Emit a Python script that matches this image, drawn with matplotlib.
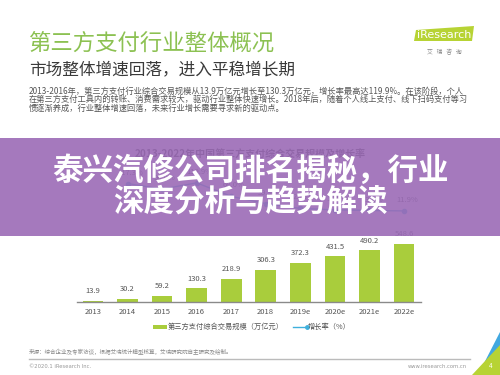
import matplotlib
matplotlib.use("Agg")
import matplotlib.pyplot as plt
from matplotlib.patches import Rectangle, Polygon

plt.rcParams['font.family'] = ['Noto Sans CJK SC', 'DejaVu Sans']

# data
years = ['2013', '2014', '2015', '2016', '2017', '2018', '2019e', '2020e', '2021e', '2022e']
scale = [13.9, 30.2, 59.2, 130.3, 218.9, 306.3, 372.3, 431.5, 490.2, 548.6]
growth_years = years[1:]
growth = [117.3, 96.0, 119.9, 68.0, 39.9, 21.5, 15.9, 13.6, 11.9]

W, H = 500, 375
BAR_GREEN = '#a9cd3c'
LINE_BLUE = '#3fb0dc'


def fx(x):
    return x / W


def fy(y):
    return 1 - y / H


fig = plt.figure(figsize=(5, 3.75), dpi=100)
fig.patch.set_facecolor('white')

# header
fig.text(fx(29), fy(43), '第三方支付行业整体概况', fontsize=16.1, color='#8cc152',
         va='center', ha='left')
fig.text(fx(29), fy(70), '市场整体增速回落，进入平稳增长期', fontsize=12.0, color='#3a3a3a',
         va='center', ha='left')
body = ['2013-2016年，第三方支付行业综合交易规模从13.9万亿元增长至130.3万亿元，增长率最高达119.9%。在该阶段，个人',
        '在第三方支付工具内的转账、消费需求较大，驱动行业整体快速增长。2018年后，随着个人线上支付、线下扫码支付等习',
        '惯逐渐养成，行业整体增速回落，未来行业增长需要寻求新的驱动点。']
for i, line in enumerate(body):
    fig.text(fx(29), fy(91 + i * 8.7), line, fontsize=5.95, color='#555555', va='center', ha='left')

# iResearch logo
fig.patches.append(Polygon([(fx(414), fy(41)), (fx(472), fy(41)), (fx(474), fy(26)), (fx(416), fy(30))],
                           closed=True, transform=fig.transFigure, facecolor='#b7d334', edgecolor='none'))
fig.text(fx(444), fy(35), 'iResearch', fontsize=8, color='white', ha='center', va='center',
         family='DejaVu Sans')
fig.text(fx(444), fy(52), '艾   瑞   咨   询', fontsize=4.2, color='#888888', ha='center', va='center')

# chart title (covered by the band)
fig.text(fx(250), fy(155), '2013-2022年中国第三方支付综合交易规模及增长率', fontsize=7.2,
         color='#333333', ha='center', va='center', fontweight='bold')

# bar axes
step = (404 - 93) / 9
left_px = 93 - 0.45 * step
right_px = 93 + 9.5 * step
ax = fig.add_axes([fx(left_px), fy(302), (right_px - left_px) / W, 74 / H])
x = list(range(len(years)))
ax.bar(x, scale, width=0.6, color=BAR_GREEN, zorder=2)
ax.set_xlim(-0.45, 9.5)
ax.set_ylim(0, 700)
for xi, v in zip(x, scale):
    ax.annotate(f'{v:.1f}', (xi, v), xytext=(0, 4), textcoords='offset points',
                ha='center', va='bottom', fontsize=5.5, color='#555555')
ax.set_xticks(x)
ax.set_xticklabels(years, fontsize=5.5, color='#555555')
ax.tick_params(axis='x', length=0, pad=4)
ax.set_yticks([])
for s in ['top', 'right', 'left']:
    ax.spines[s].set_visible(False)
ax.spines['bottom'].set_color('#8a8a8a')
ax.spines['bottom'].set_linewidth(1.0)
ax.patch.set_alpha(0)

# growth line axes
ax2 = fig.add_axes([fx(left_px), fy(214), (right_px - left_px) / W, 40 / H])
gx = [years.index(y) for y in growth_years]
ax2.plot(gx, growth, color=LINE_BLUE, lw=1.0, marker='o', ms=3, zorder=3)
ax2.set_xlim(-0.45, 9.5)
ax2.set_ylim(0, 154)
for xi, v in zip(gx, growth):
    ax2.annotate(f'{v:.1f}%', (xi, v), xytext=(2, 5), textcoords='offset points',
                 ha='center', va='bottom', fontsize=5.5, color='#555555')
ax2.axis('off')

# legend
fig.patches.append(Rectangle((fx(153), fy(329)), 14 / W, 4 / H, transform=fig.transFigure,
                             facecolor=BAR_GREEN, edgecolor='none'))
fig.text(fx(168), fy(327), '第三方支付综合交易规模（万亿元）', fontsize=5.2, color='#555555',
         ha='left', va='center')
fig.lines.append(plt.Line2D([fx(293), fx(307)], [fy(327), fy(327)], transform=fig.transFigure,
                            color=LINE_BLUE, lw=1.0, marker='o', ms=2.5, markevery=[1]))
fig.text(fx(308), fy(327), '增长率（%）', fontsize=5.2, color='#555555', ha='left', va='center')

# footer
fig.text(fx(29), fy(352), '来源：综合企业及专家访谈，根据艾瑞统计模型核算，艾瑞研究院自主研究及绘制。',
         fontsize=4, color='#888888', ha='left', va='center')
fig.lines.append(plt.Line2D([fx(29), fx(470)], [fy(359), fy(359)], transform=fig.transFigure,
                            color='#bbbbbb', lw=1.0))
fig.text(fx(29), fy(366), '©2020.1 iResearch Inc.', fontsize=3.8, color='#999999',
         ha='left', va='center', family='DejaVu Sans')
fig.text(fx(467), fy(366), 'www.iresearch.com.cn', fontsize=3.8, color='#999999',
         ha='right', va='center', family='DejaVu Sans')

# corner decoration
fig.patches.append(Polygon([(fx(500), fy(332)), (fx(500), fy(350)), (fx(484), fy(375)), (fx(478), fy(375))],
                           closed=True, transform=fig.transFigure, facecolor='#41a8e0', edgecolor='none'))
fig.patches.append(Polygon([(fx(500), fy(345)), (fx(500), fy(375)), (fx(472), fy(375))],
                           closed=True, transform=fig.transFigure, facecolor='#b7d334', edgecolor='none'))
fig.text(fx(491), fy(366), '4', fontsize=4.5, color='white', ha='center', va='center')

# purple banner with headline
fig.patches.append(Rectangle((0, fy(236)), 1, 98 / H, transform=fig.transFigure,
                             facecolor='#9b6bb6', edgecolor='none', alpha=0.9, zorder=10))
fig.text(0.5, fy(171), '泰兴汽修公司排名揭秘，行业', fontsize=22, color='white',
         fontweight='bold', ha='center', va='center', zorder=11)
fig.text(0.5, fy(202), '深度分析与趋势解读', fontsize=22, color='white',
         fontweight='bold', ha='center', va='center', zorder=11)

fig.savefig('out.png', dpi=100)
